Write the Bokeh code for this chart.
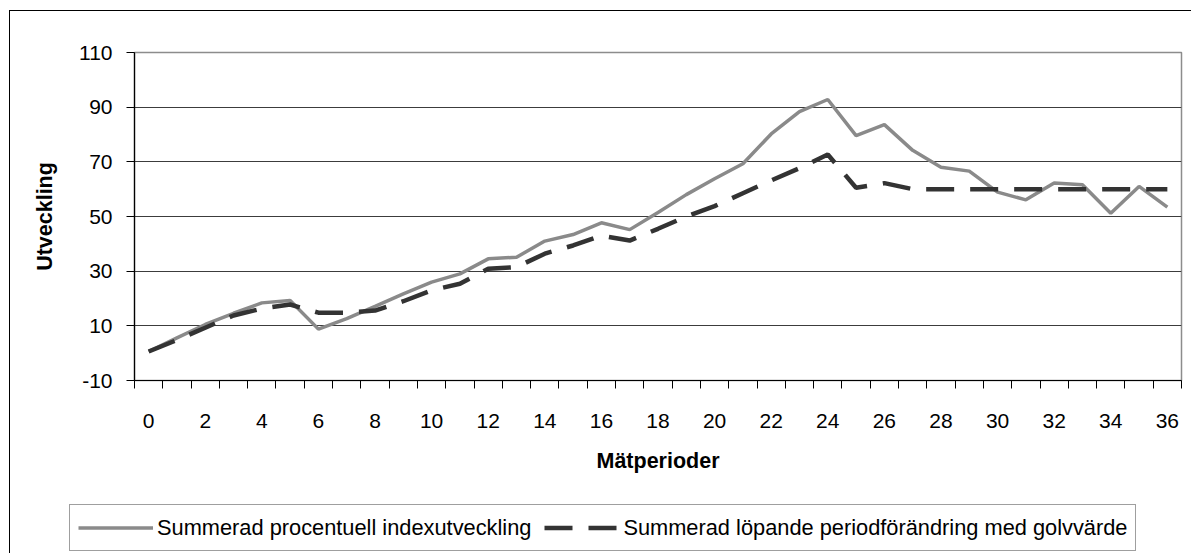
from bokeh.plotting import figure
from bokeh.layouts import column
from bokeh.models import FixedTicker, Legend, LegendItem, Range1d
from bokeh.embed import file_html
from bokeh.resources import INLINE

periods = list(range(37))
index_sum = [0.6, 5.6, 10.5, 14.6, 18.4, 19.3, 8.8, 12.6, 17.1, 21.7,
             26.0, 29.0, 34.5, 35.1, 41.0, 43.4, 47.7, 45.2, 51.5, 58.0,
             63.8, 69.3, 80.2, 88.4, 92.8, 79.6, 83.6, 74.2, 68.0, 66.6,
             58.9, 56.1, 62.3, 61.6, 51.2, 61.0, 53.4]
floor_sum = [0.6, 4.8, 9.3, 13.8, 16.3, 17.8, 14.8, 14.8, 15.6, 19.0,
             23.0, 25.4, 30.9, 31.5, 36.4, 39.4, 43.0, 41.2, 45.5, 50.0,
             53.8, 58.5, 63.2, 67.7, 72.7, 60.5, 62.2, 60.0, 60.0, 60.0,
             60.0, 60.0, 60.0, 60.0, 60.0, 60.0, 60.0]
y_ticks = [-10, 10, 30, 50, 70, 90, 110]
y_tick_labels = ["-10", "10", "30", "50", "70", "90", "110"]
x_label_ticks = list(range(0, 37, 2))
x_tick_marks = [k - 0.5 for k in range(38)]

series_names = ["Summerad procentuell indexutveckling",
                "Summerad löpande periodförändring med golvvärde"]
FONT = "Liberation Sans"
GRAY = dict(line_color="#8a8a8a", line_width=3.5)
DASH = dict(line_color="#333333", line_width=4.5, line_dash="28 16")

p = figure(width=1181, height=490, output_backend="svg", toolbar_location=None,
           x_range=Range1d(-0.5, 36.5), y_range=Range1d(-10, 110),
           min_border_left=124, min_border_right=10, min_border_top=41,
           min_border_bottom=121)
p.frame_align = False
p.background_fill_color = "white"
p.border_fill_color = "white"
p.outline_line_color = "#8c8c8c"
p.outline_line_width = 1.5

# y axis
ya = p.yaxis[0]
ya.ticker = FixedTicker(ticks=y_ticks)
ya.major_label_overrides = dict(zip(y_ticks, y_tick_labels))
ya.major_tick_out = 8
ya.major_tick_in = 0
ya.minor_tick_out = 0
ya.minor_tick_in = 0
ya.major_label_standoff = 14
ya.major_label_text_font = FONT
ya.major_label_text_font_size = "21px"
ya.major_label_text_color = "black"
ya.axis_line_color = "black"
ya.axis_line_width = 1.2
ya.major_tick_line_color = "black"
ya.axis_label = "Utveckling"
ya.axis_label_text_font = FONT
ya.axis_label_text_font_size = "21.5px"
ya.axis_label_text_font_style = "bold"
ya.axis_label_text_color = "black"
ya.axis_label_standoff = 19

# x axis
xa = p.xaxis[0]
xa.ticker = FixedTicker(ticks=x_label_ticks, minor_ticks=x_tick_marks)
xa.major_tick_out = 0
xa.major_tick_in = 0
xa.minor_tick_out = 8
xa.minor_tick_in = 0
xa.minor_tick_line_color = "black"
xa.major_label_standoff = 25
xa.major_label_text_font = FONT
xa.major_label_text_font_size = "21px"
xa.major_label_text_color = "black"
xa.axis_line_color = "black"
xa.axis_line_width = 1.2
xa.axis_label = "Mätperioder"
xa.axis_label_text_font = FONT
xa.axis_label_text_font_size = "21.5px"
xa.axis_label_text_font_style = "bold"
xa.axis_label_text_color = "black"
xa.axis_label_standoff = 18

p.xgrid.visible = False
p.ygrid.ticker = FixedTicker(ticks=y_ticks)
p.ygrid.grid_line_color = "#3c3c3c"
p.ygrid.grid_line_width = 1

p.line(periods, index_sum, **GRAY)
p.line(periods, floor_sum, **DASH)

# legend strip (its own small figure so the box can extend past the plot frame)
pl = figure(width=1181, height=52, output_backend="svg", toolbar_location=None,
            x_range=Range1d(0, 1), y_range=Range1d(0, 1),
            x_axis_type=None, y_axis_type=None, min_border=0)
pl.frame_align = False
pl.background_fill_color = "white"
pl.border_fill_color = "white"
pl.outline_line_color = None
pl.xgrid.visible = False
pl.ygrid.visible = False
k1 = pl.line([float("nan")], [float("nan")], **GRAY)
k2 = pl.line([float("nan")], [float("nan")], **DASH)

legend = Legend(items=[LegendItem(label=series_names[0], renderers=[k1]),
                       LegendItem(label=series_names[1], renderers=[k2])],
                orientation="horizontal", location=(59, 2))
legend.label_text_font = FONT
legend.label_text_font_size = "21.8px"
legend.label_text_color = "black"
legend.glyph_width = 75
legend.glyph_height = 29
legend.label_height = 29
legend.label_standoff = 4
legend.spacing = 13
legend.padding = 8
legend.margin = 0
legend.border_line_color = "#404040"
legend.border_line_width = 1
legend.background_fill_alpha = 1
pl.add_layout(legend, "center")

layout = column(p, pl, spacing=0)
layout.margin = (10, 0, 0, 9)
layout.styles = {"border-left": "1px solid black", "border-top": "1px solid black"}

open("out.html", "w").write(file_html(layout, INLINE))
